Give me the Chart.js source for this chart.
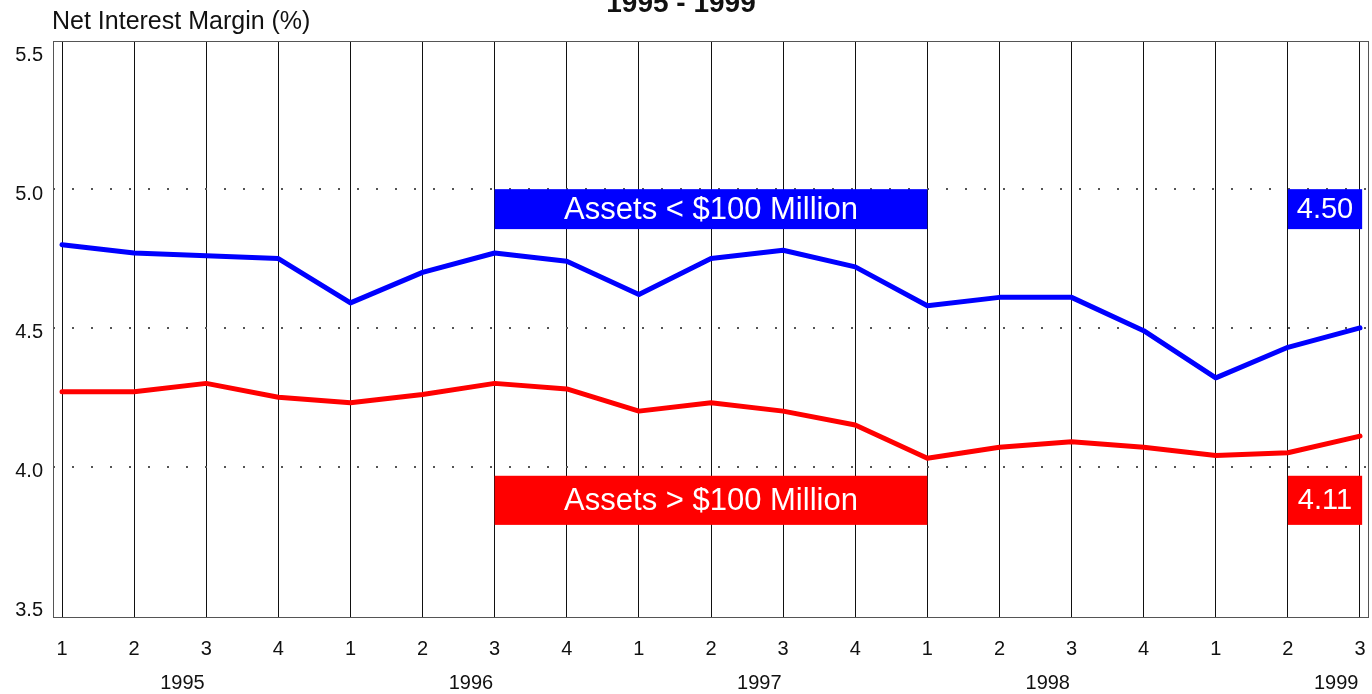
<!DOCTYPE html>
<html>
<head>
<meta charset="utf-8">
<script src="https://cdn.jsdelivr.net/npm/chart.js@4"></script>
<style>
  html, body { margin: 0; padding: 0; background: #fff; overflow: hidden; }
  #wrap { width: 1372px; height: 694px; position: relative; }
  canvas { display: block; }
</style>
</head>
<body>
<div id="wrap"><canvas id="chart"></canvas></div>
<script>
// ─── Data ────────────────────────────────────────────────
const quarters = ["1","2","3","4","1","2","3","4","1","2","3","4","1","2","3","4","1","2","3"];
const years    = ["1995","1996","1997","1998","1999"];
const yearStart = [0, 4, 8, 12, 16];   // index of first quarter in each year
const yTicks   = [3.5, 4.0, 4.5, 5.0, 5.5];

const smallBanks = [4.80,4.77,4.76,4.75, 4.59,4.70,4.77,4.74, 4.62,4.75,4.78,4.72, 4.58,4.61,4.61,4.49, 4.32,4.43,4.50];
const largeBanks = [4.27,4.27,4.30,4.25, 4.23,4.26,4.30,4.28, 4.20,4.23,4.20,4.15, 4.03,4.07,4.09,4.07, 4.04,4.05,4.11];

const seriesNames = ["Assets < $100 Million", "Assets > $100 Million"];

// ─── Look ────────────────────────────────────────────────
const FONT = "'Liberation Sans', Arial, sans-serif";
const BLUE = "#0000ff";
const RED  = "#ff0000";

// label boxes, in data units (x = quarter index, y = percent)
const boxes = [
  { text: seriesNames[0], color: BLUE, x0: 6,  x1: 12,    y0: 4.856, y1: 5.0,   size: 31 },
  { text: seriesNames[1], color: RED,  x0: 6,  x1: 12,    y0: 3.79,  y1: 3.967, size: 31 },
  { text: smallBanks[smallBanks.length - 1].toFixed(2), color: BLUE, x0: 17, x1: 18.03, y0: 4.856, y1: 5.0,   size: 29 },
  { text: largeBanks[largeBanks.length - 1].toFixed(2), color: RED,  x0: 17, x1: 18.03, y0: 3.79,  y1: 3.967, size: 29 },
];

const toPoints = arr => arr.map((v, i) => ({ x: i, y: v }));

// ─── Extra drawing ───────────────────────────────────────
const decor = {
  id: "decor",
  afterDatasetsDraw(chart) {
    const { ctx, chartArea: a, scales: { x, y } } = chart;
    ctx.save();

    // frame
    ctx.strokeStyle = "#555";
    ctx.lineWidth = 1;
    ctx.strokeRect(a.left + 0.5, a.top + 0.5, a.right - a.left - 1, a.bottom - a.top);

    // label boxes
    boxes.forEach(b => {
      const l = x.getPixelForValue(b.x0), r = x.getPixelForValue(b.x1);
      const t = y.getPixelForValue(b.y1), btm = y.getPixelForValue(b.y0);
      ctx.fillStyle = b.color;
      ctx.fillRect(l, t, r - l, btm - t);
      ctx.fillStyle = "#fff";
      ctx.font = b.size + "px " + FONT;
      ctx.textAlign = "center";
      ctx.textBaseline = "middle";
      ctx.fillText(b.text, (l + r) / 2, (t + btm) / 2 + 1);
    });

    // year labels under the quarter ticks
    ctx.fillStyle = "#111";
    ctx.font = "20px " + FONT;
    ctx.textAlign = "center";
    ctx.textBaseline = "middle";
    years.forEach((yr, i) => {
      ctx.fillText(yr, x.getPixelForValue(yearStart[i] + 1.67), 683);
    });

    // titles
    ctx.font = "bold 28px " + FONT;
    ctx.textBaseline = "alphabetic";
    ctx.fillText("1995 - 1999", 681, 12);

    ctx.font = "25px " + FONT;
    ctx.textAlign = "left";
    ctx.fillText("Net Interest Margin (%)", 52, 29);

    ctx.restore();
  }
};

// ─── Chart ───────────────────────────────────────────────
const line = (label, data, color) => ({
  label,
  data: toPoints(data),
  borderColor: color,
  backgroundColor: color,
  borderWidth: 5,
  tension: 0,
  pointRadius: 0,
  borderJoinStyle: "round",
  borderCapStyle: "round",
});

new Chart(document.getElementById("chart"), {
  type: "line",
  data: {
    datasets: [
      line(seriesNames[0], smallBanks, BLUE),
      line(seriesNames[1], largeBanks, RED),
    ]
  },
  options: {
    responsive: true,
    maintainAspectRatio: false,
    animation: false,
    layout: { padding: { top: 41, right: 3, left: 0, bottom: 0 } },
    plugins: { legend: { display: false }, tooltip: { enabled: false } },
    scales: {
      x: {
        type: "linear",
        min: -0.125,
        max: 18.125,
        afterBuildTicks: s => { s.ticks = quarters.map((q, i) => ({ value: i })); },
        afterFit: s => { s.height = 77; s.paddingLeft = 0; s.paddingRight = 0; },
        ticks: {
          padding: 20,
          color: "#111",
          font: { family: FONT, size: 20 },
          maxRotation: 0,
          autoSkip: false,
          callback: v => quarters[v] ?? "",
        },
        grid: { color: "#111", lineWidth: 1, drawTicks: false },
        border: { display: false },
      },
      y: {
        min: 3.458,
        max: 5.534,
        afterBuildTicks: s => { s.ticks = yTicks.map(v => ({ value: v })); },
        afterFit: s => { s.width = 53; s.paddingTop = 0; s.paddingBottom = 0; },
        ticks: {
          padding: 10,
          labelOffset: 5,
          color: "#111",
          font: { family: FONT, size: 20 },
          callback: v => v.toFixed(1),
        },
        grid: {
          drawTicks: false,
          lineWidth: 2,
          color: c => (c.tick && c.tick.value > 3.6 && c.tick.value < 5.4) ? "#555" : "rgba(0,0,0,0)",
        },
        border: { display: false, dash: [2, 17] },
      }
    }
  },
  plugins: [decor]
});
</script>
</body>
</html>
